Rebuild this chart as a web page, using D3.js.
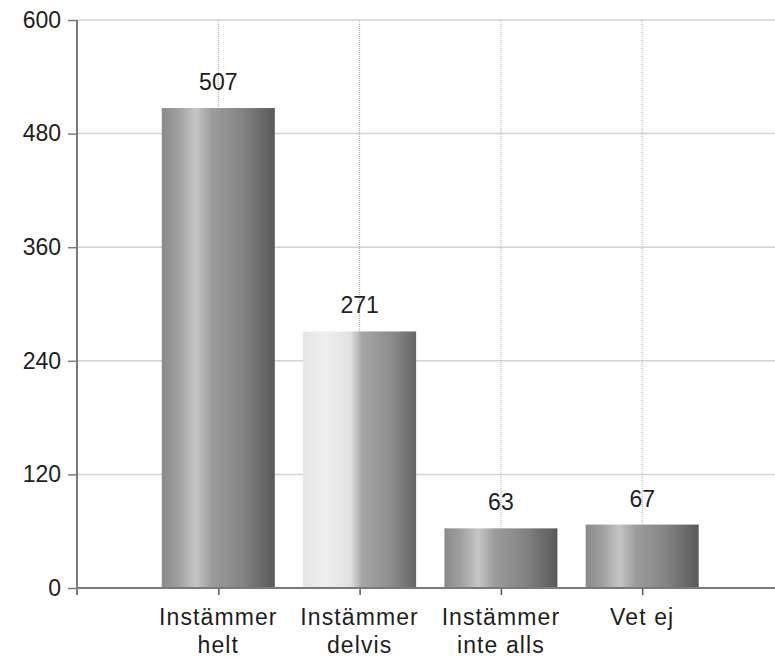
<!DOCTYPE html>
<html>
<head>
<meta charset="utf-8">
<script src="https://cdn.jsdelivr.net/npm/d3@7"></script>
<style>
  html, body { margin: 0; padding: 0; background: #fff; }
  text { font-family: "Liberation Sans", Arial, sans-serif; fill: #1e1e1e; }
</style>
</head>
<body>
<div id="chart"></div>
<script>
// chart data
var categories = ["Instämmer helt", "Instämmer delvis", "Instämmer inte alls", "Vet ej"];
var labelLines = [["Instämmer", "helt"], ["Instämmer", "delvis"], ["Instämmer", "inte alls"], ["Vet ej"]];
var values = [507, 271, 63, 67];
var yTicks = [0, 120, 240, 360, 480, 600];

var W = 775, H = 658;
var mLeft = 77, mTop = 20, mBottom = 588;

var svg = d3.select("#chart").append("svg").attr("width", W).attr("height", H);

// categories sit at 1..4 on a linear scale, the plot runs past the right edge
var x = d3.scaleLinear().domain([0, 5]).range([mLeft, mLeft + 706.5]);
var y = d3.scaleLinear().domain([0, 600]).range([mBottom, mTop]);
var step = x(1) - x(0);
var barW = step * 0.8;

// gradients, one per bar
var defs = svg.append("defs");
var stopsDark = [[0, "#8a8a8a"], [0.14, "#9e9e9e"], [0.3, "#c6c6c6"], [0.44, "#9c9c9c"], [0.7, "#858585"], [1, "#595959"]];
var stopsLight = [[0, "#e4e4e4"], [0.2, "#efefef"], [0.42, "#e0e0e0"], [0.52, "#a6a6a6"], [0.78, "#8c8c8c"], [1, "#656565"]];
var barStops = [stopsDark, stopsLight, stopsDark, stopsDark];

barStops.forEach(function(stops, i) {
    var g = defs.append("linearGradient").attr("id", "grad" + i)
        .attr("x1", "0%").attr("x2", "100%").attr("y1", "0%").attr("y2", "0%");
    g.selectAll("stop").data(stops).enter().append("stop")
        .attr("offset", function(d) { return d[0]; })
        .attr("stop-color", function(d) { return d[1]; });
});

// horizontal grid
svg.append("g").selectAll("line")
    .data(yTicks.filter(function(t) { return t > 0; }))
    .enter().append("line")
    .attr("x1", mLeft).attr("x2", W)
    .attr("y1", function(d) { return y(d); })
    .attr("y2", function(d) { return y(d); })
    .attr("stroke", "#d2d2d2").attr("stroke-width", 1.5);

// vertical dotted grid at category centers
svg.append("g").selectAll("line")
    .data(categories)
    .enter().append("line")
    .attr("x1", function(d, i) { return x(i + 1); })
    .attr("x2", function(d, i) { return x(i + 1); })
    .attr("y1", mTop).attr("y2", mBottom)
    .attr("stroke", "#a8a8a8").attr("stroke-width", 1)
    .attr("stroke-dasharray", "1,1");

// bars
svg.append("g").selectAll("rect")
    .data(values)
    .enter().append("rect")
    .attr("x", function(d, i) { return x(i + 1) - barW / 2; })
    .attr("width", barW)
    .attr("y", function(d) { return y(d); })
    .attr("height", function(d) { return y(0) - y(d); })
    .attr("fill", function(d, i) { return "url(#grad" + i + ")"; });

// value labels
svg.append("g").selectAll("text")
    .data(values)
    .enter().append("text")
    .attr("x", function(d, i) { return x(i + 1); })
    .attr("y", function(d) { return y(d) - 18; })
    .attr("text-anchor", "middle")
    .style("font-size", "23px")
    .text(function(d) { return d; });

// y axis
var yAxis = svg.append("g")
    .attr("transform", "translate(" + mLeft + ",0)")
    .call(d3.axisLeft(y).tickValues(yTicks).tickSize(9).tickPadding(7));
yAxis.select(".domain").remove();
yAxis.selectAll("line").attr("stroke", "#7a7a7a").attr("stroke-width", 1.5);
yAxis.selectAll("text").style("font-size", "23px").attr("fill", "#1e1e1e");
svg.append("line")
    .attr("x1", mLeft).attr("x2", mLeft).attr("y1", mTop).attr("y2", mBottom + 7)
    .attr("stroke", "#7a7a7a").attr("stroke-width", 2);

// x axis
var xAxis = svg.append("g")
    .attr("transform", "translate(0," + mBottom + ")")
    .call(d3.axisBottom(x).tickValues([1, 2, 3, 4]).tickSize(7).tickFormat(""));
xAxis.select(".domain").remove();
xAxis.selectAll("line").attr("stroke", "#555").attr("stroke-width", 1.5);
svg.append("line")
    .attr("x1", mLeft).attr("x2", W).attr("y1", mBottom).attr("y2", mBottom)
    .attr("stroke", "#7a7a7a").attr("stroke-width", 2);

// category labels
var cat = svg.append("g").selectAll("text")
    .data(labelLines)
    .enter().append("text")
    .attr("x", function(d, i) { return x(i + 1); })
    .attr("y", 625)
    .attr("text-anchor", "middle")
    .style("font-size", "23px")
    .style("letter-spacing", "1.1px");
cat.selectAll("tspan")
    .data(function(d, i) { return d.map(function(s) { return { s: s, i: i }; }); })
    .enter().append("tspan")
    .attr("x", function(d) { return x(d.i + 1); })
    .attr("dy", function(d, j) { return j === 0 ? 0 : 28; })
    .text(function(d) { return d.s; });
</script>
</body>
</html>
